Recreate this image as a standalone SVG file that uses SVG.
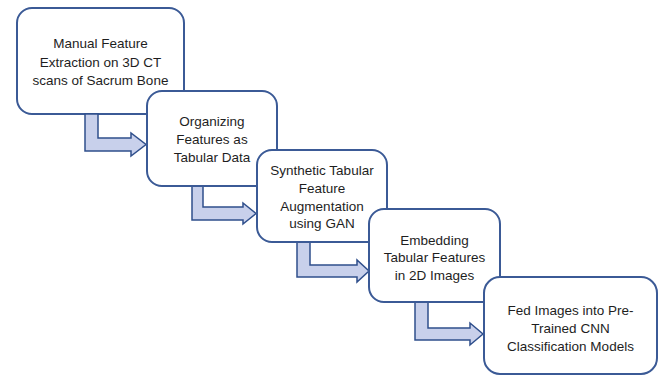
<svg xmlns="http://www.w3.org/2000/svg" width="660" height="376" viewBox="0 0 660 376">
<defs>
<style>
.box{fill:#ffffff;stroke:#3b5a96;stroke-width:2}
.arr{fill:#c8d0eb;stroke:#2f4f8c;stroke-width:1.5;stroke-linejoin:miter}
text{font-family:"Liberation Sans",Arial,sans-serif;font-size:13.5px;fill:#1e1e1e;text-anchor:middle}
</style>
</defs>
<rect width="660" height="376" fill="#ffffff"/>
<g id="node1">
<rect class="box" x="17" y="8" width="167" height="106" rx="15"/>
<text x="100.5" y="48">Manual Feature</text>
<text x="100.5" y="66.5">Extraction on 3D CT</text>
<text x="100.5" y="85">scans of Sacrum Bone</text>
</g>
<g id="connectors">
<path class="arr" d="M85,114 L98,114 L98,138 L131,138 L131,133 L146,144.5 L131,156 L131,151 L85,151 Z"/>
<path class="arr" d="M192,186 L203,186 L203,207 L243,207 L243,203 L256,213.5 L243,224 L243,220 L192,220 Z"/>
<path class="arr" d="M297,242 L310,242 L310,265 L357,265 L357,260 L369,271 L357,282 L357,277 L297,277 Z"/>
<path class="arr" d="M415,302 L428,302 L428,328 L470,328 L470,323 L483,334 L470,345 L470,340 L415,340 Z"/>
</g>
<g id="node2">
<rect class="box" x="147" y="91" width="130" height="95" rx="15"/>
<text x="212" y="126">Organizing</text>
<text x="212" y="144">Features as</text>
<text x="212" y="162">Tabular Data</text>
</g>
<g id="node3">
<rect class="box" x="257" y="150" width="130" height="92" rx="15"/>
<text x="322" y="175">Synthetic Tabular</text>
<text x="322" y="193">Feature</text>
<text x="322" y="210.5">Augmentation</text>
<text x="322" y="228">using GAN</text>
</g>
<g id="node4">
<rect class="box" x="369" y="209" width="131" height="93" rx="15"/>
<text x="434.5" y="244.5">Embedding</text>
<text x="434.5" y="262">Tabular Features</text>
<text x="434.5" y="279.5">in 2D Images</text>
</g>
<g id="node5">
<rect class="box" x="484" y="277" width="173" height="97" rx="16"/>
<text x="570.5" y="315">Fed Images into Pre-</text>
<text x="570.5" y="333">Trained CNN</text>
<text x="570.5" y="351">Classification Models</text>
</g>
</svg>
